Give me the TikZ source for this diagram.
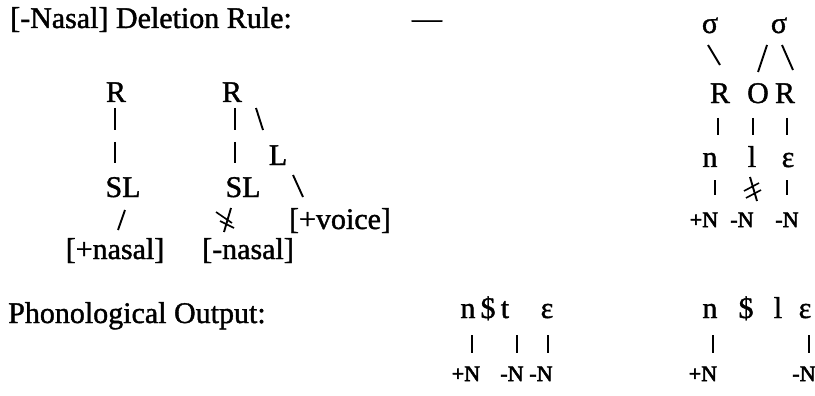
\documentclass[tikz,border=0pt]{standalone}
\usepackage{fontspec}
\setmainfont{Liberation Serif}[FakeBold=1.3]
\newfontfamily\nfam{Liberation Serif}[FakeBold=2.4]
\tikzset{
  big/.style={font=\fontsize{30}{30}\selectfont, anchor=base, inner sep=0pt},
  lbl/.style={big, anchor=base west},
  sm/.style={font=\nfam\fontsize{22}{22}\selectfont, anchor=base, inner sep=0pt},
  ln/.style={line width=1.9pt},
  thin/.style={line width=1.6pt}
}
\begin{document}
\begin{tikzpicture}[x=1pt,y=-1pt]
\useasboundingbox (0,0) rectangle (815,396);
% titles
\node[lbl] (title) at (10,28) {[-Nasal] Deletion Rule:};
\node[big] (dash) at (427,28) {—};
\node[lbl] (out) at (8,323) {Phonological Output:};
% left tree 1
\node[big] (ra) at (116,102) {R};
\node[big] (sla) at (123,197) {SL};
\node[big] (pn) at (115,259) {[+nasal]};
\draw[ln] (115,108) -- (115,130);
\draw[ln] (115,142) -- (115,163);
\draw[ln] (125,210) -- (118,230);
% left tree 2
\node[big] (rb) at (232,102) {R};
\node[big] (lb) at (278,165) {L};
\node[big] (slb) at (243,197) {SL};
\node[big] (pv) at (340,229) {[+voice]};
\node[big] (mn) at (248,259) {[-nasal]};
\draw[ln] (235,108) -- (235,130);
\draw[ln] (235,142) -- (235,163);
\draw[ln] (256,108) -- (263,130);
\draw[ln] (293,175) -- (303,197);
\draw[ln] (231,208) -- (224,232);
\draw[thin] (216,212) -- (232,223);
\draw[thin] (220,221) -- (234,228);
% right tree
\node[big] (s1) at (710,33) {σ};
\node[big] (s2) at (779,33) {σ};
\node[big] (r1) at (720,103) {R};
\node[big] (o1) at (758,103) {O};
\node[big] (r2) at (785,103) {R};
\node[big] (n1) at (710,167) {n};
\node[big] (l1) at (752,167) {l};
\node[big] (e1) at (788,167) {ε};
\node[sm] (f1) at (704,227) {+N};
\node[sm] (f2) at (742,227) {-N};
\node[sm] (f3) at (787,227) {-N};
\draw[ln] (708,45) -- (720,65);
\draw[ln] (767,45) -- (758,72);
\draw[ln] (782,45) -- (793,70);
\draw[ln] (718,118) -- (718,135);
\draw[ln] (753,118) -- (753,135);
\draw[ln] (787,118) -- (787,135);
\draw[ln] (715,180) -- (715,195);
\draw[ln] (787,180) -- (787,195);
\draw[ln] (750,177) -- (757,201);
\draw[thin] (744,191) -- (759,183);
\draw[thin] (746,198) -- (761,190);
% output 1
\node[big] (on1) at (468,318) {n};
\node[big] (od1) at (488,318) {\$};
\node[big] (ot1) at (505,318) {t};
\node[big] (oe1) at (547,318) {ε};
\draw[ln] (472,335) -- (472,353);
\draw[ln] (517,335) -- (517,353);
\draw[ln] (548,335) -- (548,353);
\node[sm] (g1) at (466,381) {+N};
\node[sm] (g2) at (512,381) {-N};
\node[sm] (g3) at (541,381) {-N};
% output 2
\node[big] (on2) at (710,318) {n};
\node[big] (od2) at (746,318) {\$};
\node[big] (ol2) at (778,318) {l};
\node[big] (oe2) at (805,318) {ε};
\draw[ln] (713,335) -- (713,353);
\draw[ln] (809,335) -- (809,353);
\node[sm] (h1) at (703,381) {+N};
\node[sm] (h2) at (804,381) {-N};
\end{tikzpicture}
\end{document}
